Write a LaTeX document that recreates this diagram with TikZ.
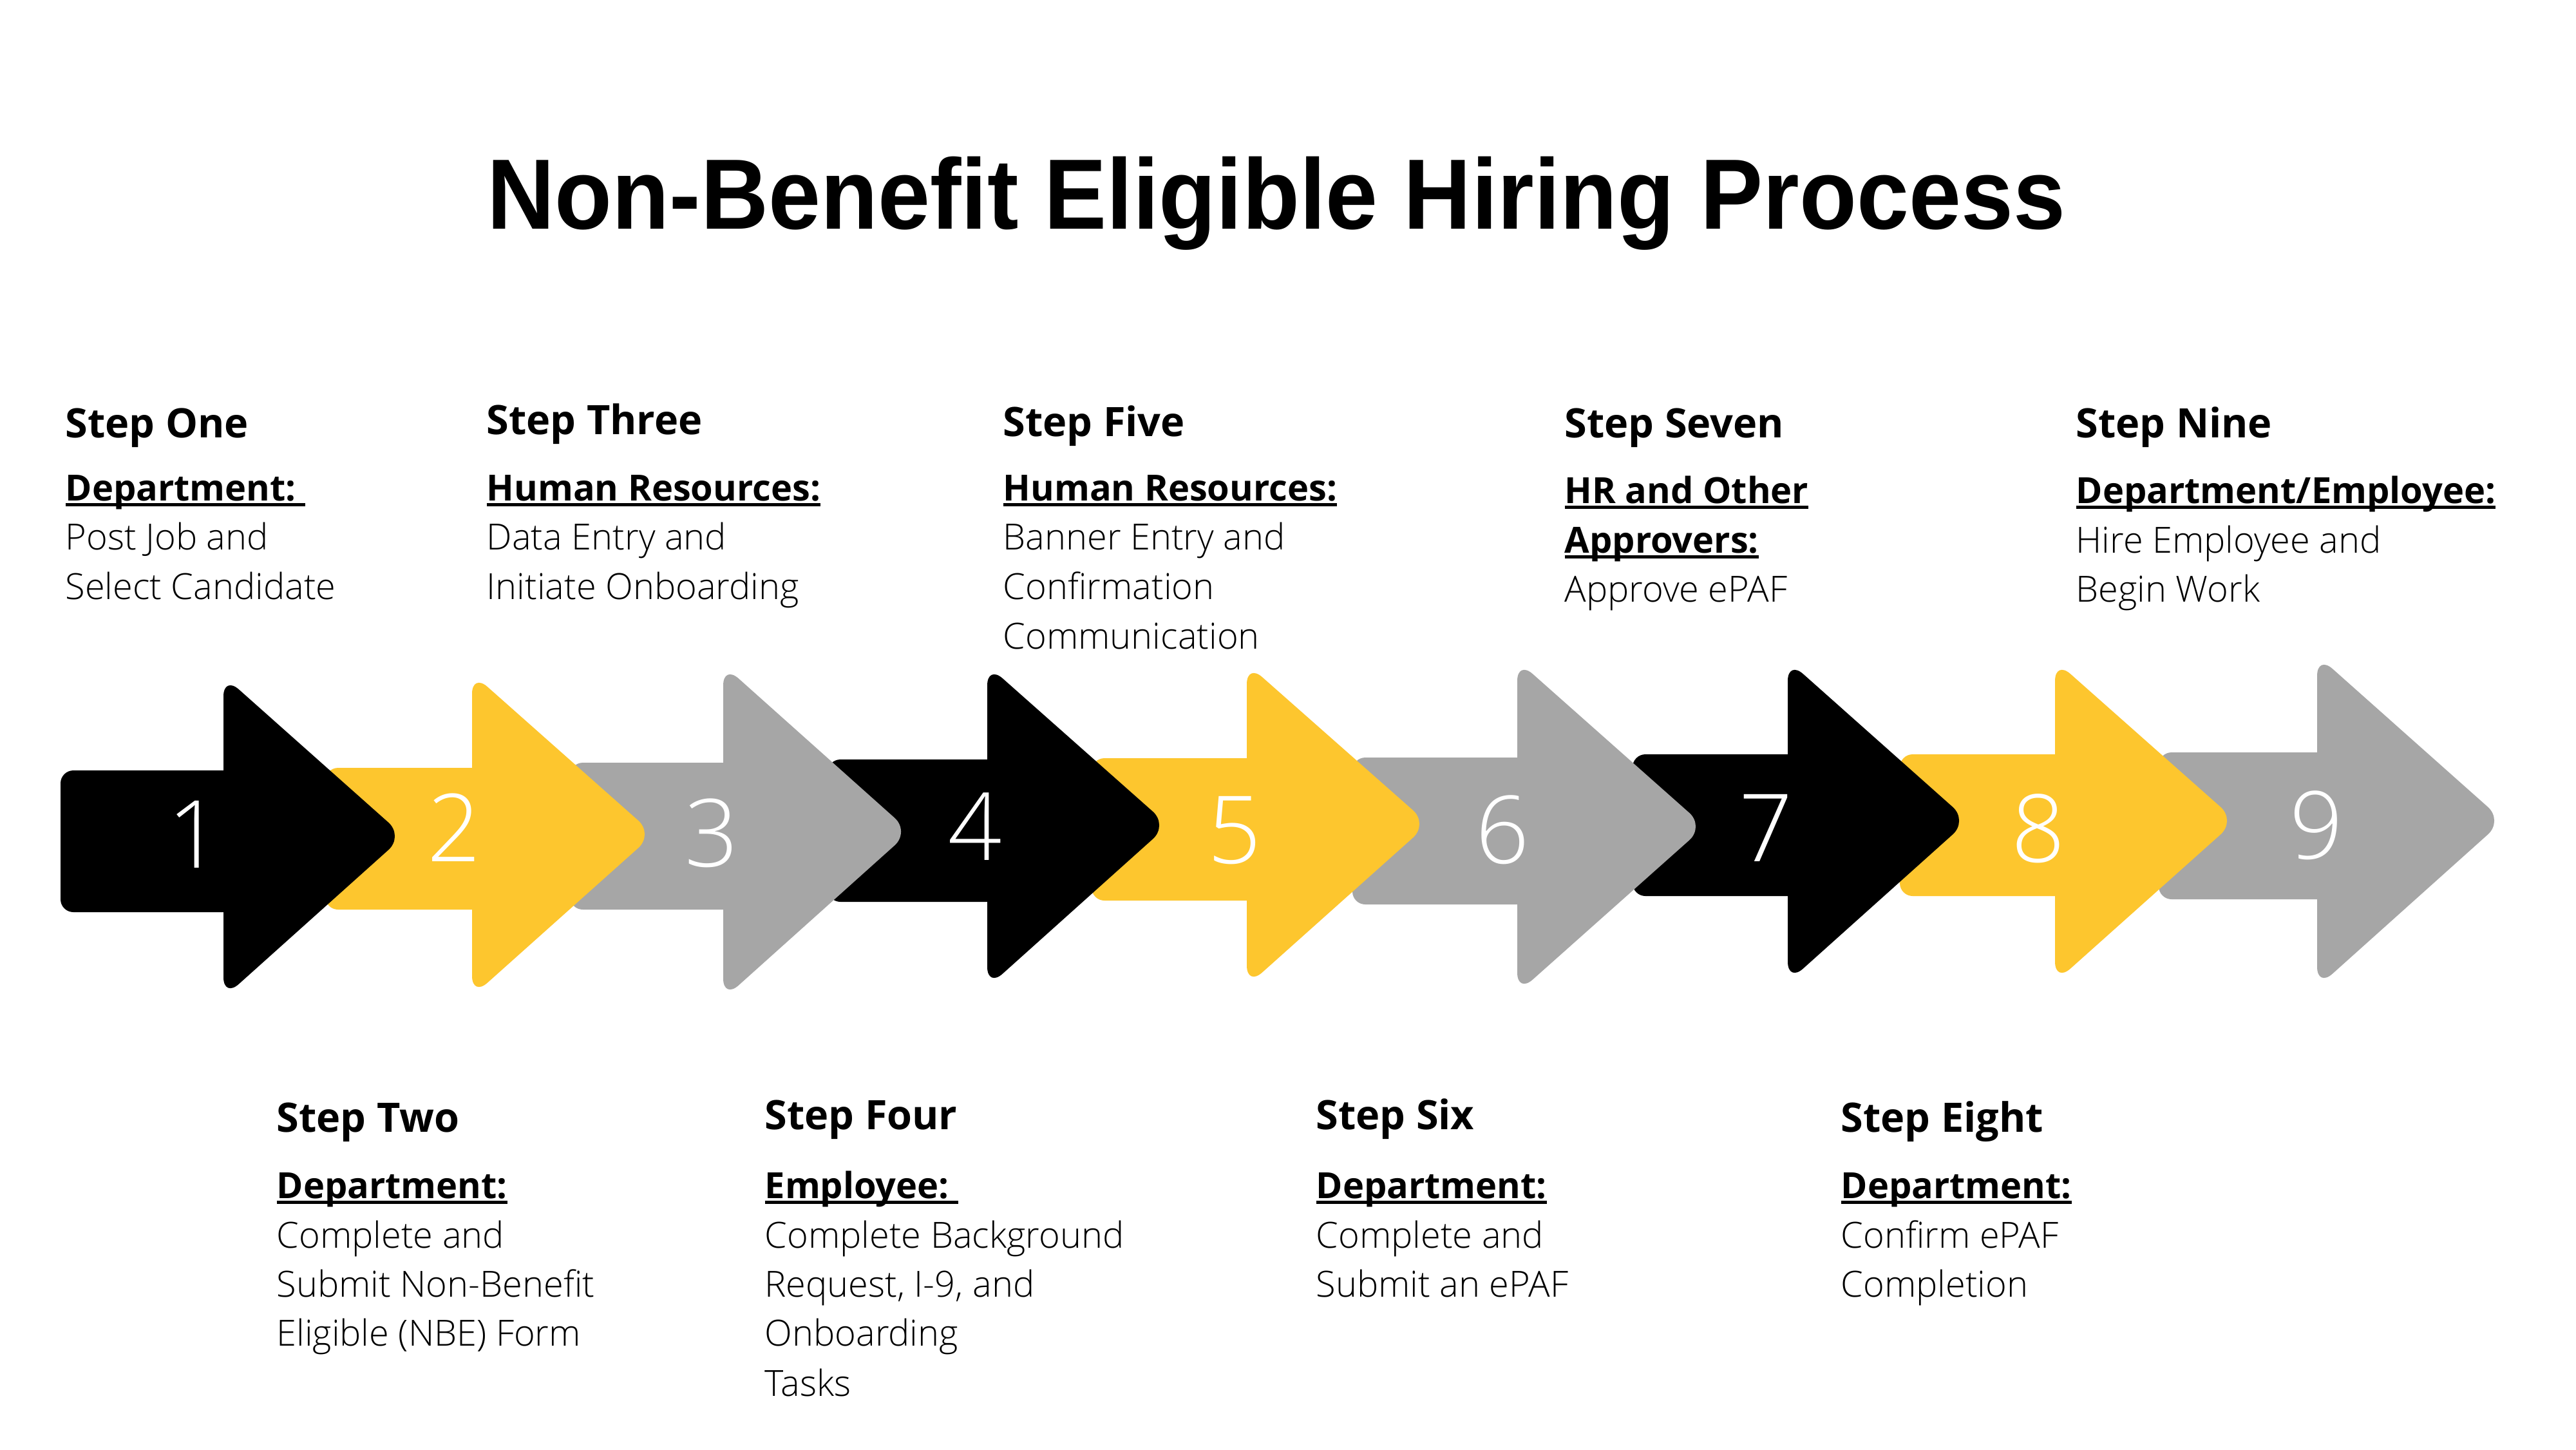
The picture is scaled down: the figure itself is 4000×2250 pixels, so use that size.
\documentclass[tikz,border=0pt]{standalone}
\usepackage{fontspec}
\setmainfont{Open Sans}
\newfontfamily\lightfont{Open Sans Light}
\newfontfamily\titlefont{Liberation Sans}
\definecolor{ayellow}{HTML}{FDC62E}
\definecolor{agray}{HTML}{A6A6A6}
\newlength\ulw
\newcommand\myul[1]{\settowidth\ulw{#1}\rlap{\rule[-2.5pt]{\ulw}{1.4pt}}#1}
\newsavebox\titlebox
% #1 colour, #2 body left, #3 body top, #4 body bottom, #5 head x, #6 head top, #7 head bottom, #8 tip x, #9 tip y
\newcommand\bigarrow[9]{%
  \fill[#1, rounded corners=0.2cm] (#2,#3) rectangle (#5+60,#4);
  \fill[#1, rounded corners=0.32cm] (#5,#6) -- (#8,#9) -- (#5,#7) -- cycle;
}
\begin{document}
\sbox\titlebox{\titlefont\bfseries\fontsize{44.1}{50}\selectfont Non-Benefit Eligible Hiring Process}%
\pgfmathsetmacro\tsx{696.8/\the\wd\titlebox}%
\begin{tikzpicture}[x=0.01cm,y=-0.01cm,
  hdr/.style={anchor=base west, inner sep=0pt, font=\bfseries\fontsize{17.9}{21}\selectfont},
  lbl/.style={anchor=base west, inner sep=0pt, font=\bfseries\fontsize{15.9}{20}\selectfont},
  bodytxt/.style={anchor=base west, inner sep=0pt, font=\lightfont\fontsize{15.9}{20}\selectfont},
  numtxt/.style={anchor=base, inner sep=0pt, text=white, font=\lightfont\fontsize{41.5}{45}\selectfont}]
\useasboundingbox (0,0) rectangle (4000,2250);
\fill[white] (0,0) rectangle (4000,2250);

% title
\node[anchor=base, inner sep=0pt] (title) at (1982,355) {\scalebox{\tsx}[1]{\usebox\titlebox}};

% arrows (drawn from last to first so earlier ones lie on top)
\bigarrow{agray}{3352}{1168}{1396}{3598}{1017}{1533}{3887}{1274}
\bigarrow{ayellow}{2950}{1171}{1391}{3191}{1025}{1525}{3472}{1274}
\bigarrow{black}{2535}{1171}{1391}{2776}{1025}{1525}{3056}{1274}
\bigarrow{agray}{2100}{1176}{1404}{2356}{1025}{1542}{2647}{1283}
\bigarrow{ayellow}{1695}{1177}{1398}{1936}{1030}{1531}{2218}{1279}
\bigarrow{black}{1285}{1179}{1400}{1533}{1032}{1533}{1814}{1281}
\bigarrow{agray}{885}{1184}{1412}{1123}{1032}{1551}{1413}{1291}
\bigarrow{ayellow}{505}{1192}{1412}{733}{1045}{1547}{1015}{1295}
\bigarrow{black}{94}{1196}{1416}{347}{1049}{1549}{627}{1298}

% numbers
\node[numtxt] (n1) at (302,1347) {1};
\node[numtxt] (n2) at (705,1337) {2};
\node[numtxt] (n3) at (1105,1345) {3};
\node[numtxt] (n4) at (1514,1335) {4};
\node[numtxt] (n5) at (1917,1340) {5};
\node[numtxt] (n6) at (2333,1340) {6};
\node[numtxt] (n7) at (2742,1337) {7};
\node[numtxt] (n8) at (3165,1338) {8};
\node[numtxt] (n9) at (3597,1333) {9};

% Step One
\node[hdr] (h1) at (101,679) {Step One};
\node[lbl] (l1) at (101,777) {\myul{Department:\ }};
\node[bodytxt] (b1a) at (101,853) {Post Job and};
\node[bodytxt] (b1b) at (101,930) {Select Candidate};

% Step Three
\node[hdr] (h3) at (755,674) {Step Three};
\node[lbl] (l3) at (755,777) {\myul{Human Resources:}};
\node[bodytxt] (b3a) at (755,853) {Data Entry and};
\node[bodytxt] (b3b) at (755,930) {Initiate Onboarding};

% Step Five
\node[hdr] (h5) at (1557,677) {Step Five};
\node[lbl] (l5) at (1557,777) {\myul{Human Resources:}};
\node[bodytxt] (b5a) at (1557,853) {Banner Entry and};
\node[bodytxt] (b5b) at (1557,930) {Confirmation};
\node[bodytxt] (b5c) at (1557,1007) {Communication};

% Step Seven
\node[hdr] (h7) at (2429,679) {Step Seven};
\node[lbl] (l7) at (2429,781) {\myul{HR and Other}};
\node[lbl] (l7b) at (2429,858) {\myul{Approvers:}};
\node[bodytxt] (b7a) at (2429,934) {Approve ePAF};

% Step Nine
\node[hdr] (h9) at (3223,679) {Step Nine};
\node[lbl] (l9) at (3223,781) {\myul{Department/Employee:}};
\node[bodytxt] (b9a) at (3223,858) {Hire Employee and};
\node[bodytxt] (b9b) at (3223,934) {Begin Work};

% Step Two
\node[hdr] (h2) at (429,1757) {Step Two};
\node[lbl] (l2) at (429,1860) {\myul{Department:}};
\node[bodytxt] (b2a) at (429,1937) {Complete and};
\node[bodytxt] (b2b) at (429,2013) {Submit Non-Benefit};
\node[bodytxt] (b2c) at (429,2089) {Eligible (NBE) Form};

% Step Four
\node[hdr] (h4) at (1187,1753) {Step Four};
\node[lbl] (l4) at (1187,1860) {\myul{Employee:\ }};
\node[bodytxt] (b4a) at (1187,1937) {Complete Background};
\node[bodytxt] (b4b) at (1187,2013) {Request, I-9, and};
\node[bodytxt] (b4c) at (1187,2089) {Onboarding};
\node[bodytxt] (b4d) at (1187,2167) {Tasks};

% Step Six
\node[hdr] (h6) at (2043,1753) {Step Six};
\node[lbl] (l6) at (2043,1860) {\myul{Department:}};
\node[bodytxt] (b6a) at (2043,1937) {Complete and};
\node[bodytxt] (b6b) at (2043,2013) {Submit an ePAF};

% Step Eight
\node[hdr] (h8) at (2858,1757) {Step Eight};
\node[lbl] (l8) at (2858,1860) {\myul{Department:}};
\node[bodytxt] (b8a) at (2858,1937) {Confirm ePAF};
\node[bodytxt] (b8b) at (2858,2013) {Completion};
\end{tikzpicture}
\end{document}
